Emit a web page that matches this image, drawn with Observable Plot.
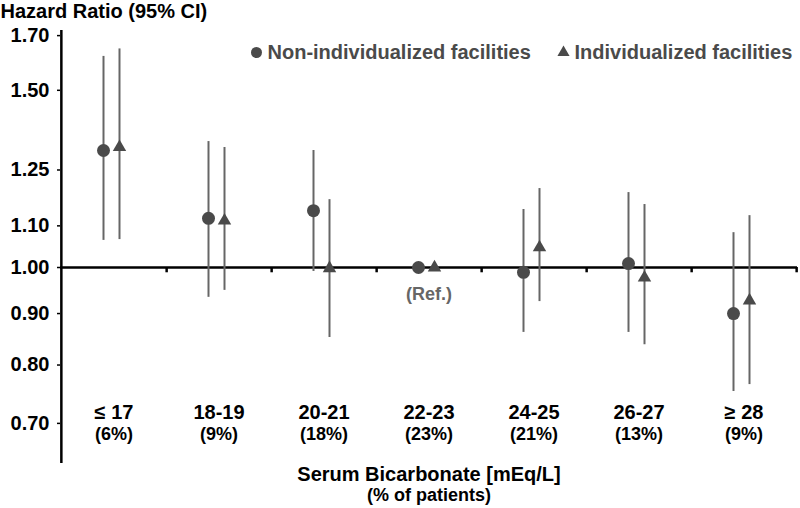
<!DOCTYPE html>
<html>
<head>
<meta charset="utf-8">
<script src="https://cdn.jsdelivr.net/npm/d3@7"></script>
<script src="https://cdn.jsdelivr.net/npm/@observablehq/plot@0.6"></script>
<style>
  html, body { margin: 0; padding: 0; background: #fff; }
</style>
</head>
<body>
<div id="chart"></div>
<script>
// ---- data ----
const categories = ["≤ 17", "18-19", "20-21", "22-23", "24-25", "26-27", "≥ 28"];
const percentPatients = [6, 9, 18, 23, 21, 13, 9];

const nonIndHR   = [1.307, 1.119, 1.139, 1.00, 0.989, 1.009, 0.900];
const nonIndLow  = [1.064, 0.934, 0.991, null, 0.862, 0.862, 0.753];
const nonIndHigh = [1.621, 1.334, 1.307, null, 1.142, 1.187, 1.083];

const indHR   = [1.317, 1.113, 0.998, 1.00, 1.047, 0.977, 0.927];
const indLow  = [1.066, 0.949, 0.852, null, 0.925, 0.838, 0.765];
const indHigh = [1.649, 1.316, 1.168, null, 1.198, 1.155, 1.126];

const yTicks = [0.70, 0.80, 0.90, 1.00, 1.10, 1.25, 1.50, 1.70];
const yDomain = [0.6386, 1.72];
const refValue = 1.0;
const refTickEnd = 0.988;

const seriesNames = ["Non-individualized facilities", "Individualized facilities"];

// ---- layout ----
const W = 800, H = 508;
const mL = 60, mR = 3, mT = 30, mB = 45;
const bw = (W - mL - mR) / categories.length;
const offNon = -10.5, offInd = 5.5;

const rows = categories.map((c, i) => ({
  cat: c, pct: percentPatients[i],
  nHR: nonIndHR[i], nLo: nonIndLow[i], nHi: nonIndHigh[i],
  iHR: indHR[i], iLo: indLow[i], iHi: indHigh[i]
}));
const ciRows = rows.filter(d => d.nLo != null);

const dark = "#4a4a4a";
const barColor = "#666";

const chart = Plot.plot({
  width: W, height: H,
  marginLeft: mL, marginRight: mR, marginTop: mT, marginBottom: mB,
  style: { fontFamily: "'Liberation Sans', Arial, sans-serif", background: "#fff", color: "#000" },
  x: { type: "band", domain: categories, padding: 0, axis: null },
  y: { type: "log", domain: yDomain, axis: null },
  marks: [
    // y axis line
    Plot.ruleX([categories[0]], { x: d => d, dx: -bw / 2, y1: yDomain[0], y2: yDomain[1], stroke: "#000", strokeWidth: 2.5 }),
    Plot.axisY({ ticks: yTicks, tickFormat: d3.format(".2f"), tickSize: 3, tickPadding: 8,
                 fontSize: 20, fontWeight: "bold", label: null, strokeWidth: 1.5 }),
    // reference line + boundary ticks
    Plot.ruleY([refValue], { stroke: "#000", strokeWidth: 2.5 }),
    Plot.ruleX(categories, { x: d => d, dx: bw / 2, y1: refValue, y2: refTickEnd, stroke: "#000", strokeWidth: 2.5 }),
    // CIs
    Plot.ruleX(ciRows, { x: "cat", y1: "nLo", y2: "nHi", dx: offNon, stroke: barColor, strokeWidth: 2 }),
    Plot.ruleX(ciRows, { x: "cat", y1: "iLo", y2: "iHi", dx: offInd, stroke: barColor, strokeWidth: 2 }),
    // points
    Plot.dot(rows, { x: "cat", y: "nHR", dx: offNon, r: 6.5, symbol: "circle", fill: dark, stroke: "none" }),
    Plot.dot(rows, { x: "cat", y: "iHR", dx: offInd, r: 5, symbol: "triangle", fill: dark, stroke: "none" }),
    // (Ref.)
    Plot.text(["(Ref.)"], { x: () => categories[3], y: () => refValue, dy: 27, fontSize: 18, fontWeight: "bold", fill: "#666" }),
    // category labels
    Plot.text(rows, { x: "cat", y: () => yTicks[0], text: "cat", dy: -11, fontSize: 20, fontWeight: "bold", fill: "#000" }),
    Plot.text(rows, { x: "cat", y: () => yTicks[0], text: d => `(${d.pct}%)`, dy: 11, fontSize: 18, fontWeight: "bold", fill: "#000" }),
    // title
    Plot.text(["Hazard Ratio (95% CI)"], { frameAnchor: "top-left", dx: -mL, dy: -19, textAnchor: "start",
      lineAnchor: "middle", fontSize: 20, fontWeight: "bold", fill: "#000" }),
    // legend
    Plot.dot([0], { frameAnchor: "top-left", dx: 196, dy: 22, r: 5.5, symbol: "circle", fill: dark, stroke: "none" }),
    Plot.text([seriesNames[0]], { frameAnchor: "top-left", dx: 207, dy: 22, textAnchor: "start", lineAnchor: "middle",
      fontSize: 20, fontWeight: "bold", fill: dark }),
    Plot.dot([0], { frameAnchor: "top-left", dx: 503, dy: 22, r: 4.5, symbol: "triangle", fill: dark, stroke: "none" }),
    Plot.text([seriesNames[1]], { frameAnchor: "top-left", dx: 514, dy: 22, textAnchor: "start", lineAnchor: "middle",
      fontSize: 20, fontWeight: "bold", fill: dark }),
    // x axis title
    Plot.text(["Serum Bicarbonate [mEq/L]"], { frameAnchor: "bottom", dy: 11.5, lineAnchor: "middle",
      fontSize: 20, fontWeight: "bold", fill: "#000" }),
    Plot.text(["(% of patients)"], { frameAnchor: "bottom", dy: 32, lineAnchor: "middle",
      fontSize: 18, fontWeight: "bold", fill: "#000" })
  ]
});
document.getElementById("chart").appendChild(chart);
</script>
</body>
</html>
